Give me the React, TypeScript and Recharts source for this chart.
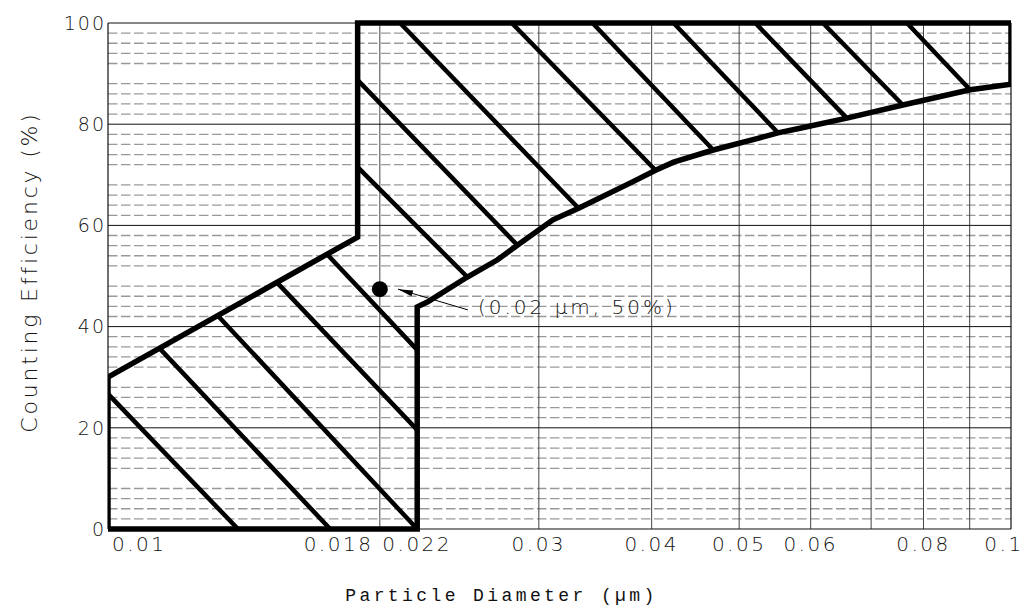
import React from 'react'
import {
  ComposedChart,
  Line,
  Scatter,
  XAxis,
  YAxis,
  ReferenceLine,
} from 'recharts'

// axis ticks
const xTicks = [0.01, 0.018, 0.022, 0.03, 0.04, 0.05, 0.06, 0.08, 0.1]
const xTickLabels = ['0.01', '0.018', '0.022', '0.03', '0.04', '0.05', '0.06', '0.08', '0.1']
const yTicks = [0, 20, 40, 60, 80, 100]

// grid
const xGrid = [0.02, 0.03, 0.04, 0.05, 0.06, 0.07, 0.08, 0.09]
const yMajorGrid = [20, 40, 60, 80]
const yMinorGrid = [
  2, 4, 6, 8, 12, 14, 16, 18, 22, 24, 26, 28, 32, 34, 36, 38, 42, 44, 46, 48,
  52, 54, 56, 58, 62, 64, 66, 68, 72, 74, 76, 78, 82, 84, 86, 88, 92, 94, 96, 98,
]

// outline of the efficiency band
const bandOutline = [
  { x: 0.01, y: 0 },
  { x: 0.01, y: 30 },
  { x: 0.0189, y: 57.7 },
  { x: 0.0189, y: 100 },
  { x: 0.1, y: 100 },
  { x: 0.1, y: 87.9 },
  { x: 0.0901, y: 86.8 },
  { x: 0.0759, y: 83.8 },
  { x: 0.0658, y: 81.2 },
  { x: 0.0584, y: 79.2 },
  { x: 0.0552, y: 78.3 },
  { x: 0.0527, y: 77.3 },
  { x: 0.0468, y: 74.9 },
  { x: 0.0423, y: 72.5 },
  { x: 0.0404, y: 70.9 },
  { x: 0.0381, y: 68.6 },
  { x: 0.0332, y: 63.4 },
  { x: 0.0311, y: 61.1 },
  { x: 0.0284, y: 56.1 },
  { x: 0.027, y: 53.2 },
  { x: 0.025, y: 49.8 },
  { x: 0.0226, y: 44.9 },
  { x: 0.022, y: 43.9 },
  { x: 0.022, y: 0 },
  { x: 0.01, y: 0 },
]

// hatch segments (start, end)
const lowerHatch = [
  [{ x: 0.01, y: 26.7 }, { x: 0.01393, y: 0 }],
  [{ x: 0.01142, y: 35.6 }, { x: 0.01762, y: 0 }],
  [{ x: 0.01324, y: 42.1 }, { x: 0.022, y: 0 }],
  [{ x: 0.01539, y: 48.7 }, { x: 0.022, y: 19.6 }],
  [{ x: 0.01748, y: 54.3 }, { x: 0.022, y: 35.4 }],
]
const upperHatch = [
  [{ x: 0.0189, y: 71.5 }, { x: 0.025, y: 49.8 }],
  [{ x: 0.0189, y: 88.7 }, { x: 0.0284, y: 56.1 }],
  [{ x: 0.02106, y: 100 }, { x: 0.0332, y: 63.4 }],
  [{ x: 0.028, y: 100 }, { x: 0.0404, y: 70.9 }],
  [{ x: 0.0344, y: 100 }, { x: 0.0468, y: 74.9 }],
  [{ x: 0.0423, y: 100 }, { x: 0.0552, y: 78.3 }],
  [{ x: 0.0521, y: 100 }, { x: 0.0658, y: 81.2 }],
  [{ x: 0.0619, y: 100 }, { x: 0.0759, y: 83.8 }],
  [{ x: 0.0767, y: 100 }, { x: 0.0901, y: 86.8 }],
]

// marked point and its note
const markedPoint = [{ x: 0.02, y: 47.4 }]
const arrowLine = [
  { x: 0.02504, y: 43.3 },
  { x: 0.02095, y: 47.4 },
]
const noteAnchor = [{ x: 0.02504, y: 43.3 }]
const noteText = '(0.02 µm, 50%)'

const tickFont = "'DejaVu Sans', sans-serif"

const XTick = (props: any) => {
  const { x, y, index } = props
  const last = xTicks.length - 1
  const anchor = index === 0 ? 'start' : 'middle'
  const dx = index === 0 ? 4 : index === last ? -7 : 0
  return (
    <text
      x={x + dx}
      y={y}
      dy="0.71em"
      textAnchor={anchor}
      fontFamily={tickFont}
      fontWeight={200}
      fontSize={20}
      letterSpacing={2.5}
      fill="#111"
    >
      {xTickLabels[index]}
    </text>
  )
}

const YTick = (props: any) => {
  const { x, y, payload } = props
  return (
    <text
      x={x}
      y={y}
      dy="0.36em"
      textAnchor="end"
      fontFamily={tickFont}
      fontWeight={200}
      fontSize={19}
      letterSpacing={2}
      fill="#111"
    >
      {payload.value}
    </text>
  )
}

const XTitle = (props: any) => {
  const vb = props.viewBox || { x: 100, y: 521, width: 903, height: 77 }
  return (
    <text
      x={vb.x + vb.width / 2 - 58}
      y={vb.y + 72}
      textAnchor="middle"
      fontFamily="'Liberation Mono', monospace"
      fontSize={18}
      letterSpacing={3.4}
      fill="#111"
    >
      Particle Diameter (µm)
    </text>
  )
}

const YTitle = (props: any) => {
  const vb = props.viewBox || { x: 0, y: 15, width: 100, height: 506 }
  const cx = vb.x + 21
  const cy = vb.y + vb.height / 2 - 4
  return (
    <text
      x={cx}
      y={cy}
      dy="0.36em"
      textAnchor="middle"
      transform={`rotate(-90 ${cx} ${cy})`}
      fontFamily={tickFont}
      fontWeight={200}
      fontSize={22}
      letterSpacing={2.8}
      fill="#111"
    >
      Counting Efficiency (%)
    </text>
  )
}

const Dot = (props: any) => <circle cx={props.cx} cy={props.cy} r={8} fill="#000" />

const ArrowHead = (props: any) => {
  const { cx, cy } = props
  return (
    <polygon
      points={`${cx},${cy} ${cx + 15},${cy - 3} ${cx + 15},${cy + 3}`}
      transform={`rotate(16.7 ${cx} ${cy})`}
      fill="#000"
    />
  )
}

const Note = (props: any) => (
  <text
    x={props.cx + 10}
    y={props.cy - 3}
    dy="0.36em"
    fontFamily={tickFont}
    fontWeight={200}
    fontSize={20}
    letterSpacing={3}
    fill="#111"
  >
    {noteText}
  </text>
)

const App = () => {
  return (
    <div style={{ position: 'absolute', left: 8, top: 8 }}>
      <ComposedChart
        width={1015}
        height={598}
        margin={{ top: 15, right: 12, bottom: 0, left: 0 }}
      >
        <XAxis
          dataKey="x"
          type="number"
          scale="log"
          domain={[0.01, 0.1]}
          ticks={xTicks}
          allowDataOverflow
          axisLine={false}
          tickLine={false}
          height={77}
          tick={<XTick />}
          interval={0}
          label={<XTitle />}
        />
        <YAxis
          dataKey="y"
          type="number"
          domain={[0, 100]}
          ticks={yTicks}
          axisLine={false}
          tickLine={false}
          tickSize={0}
          tickMargin={2}
          width={100}
          tick={<YTick />}
          interval={0}
          label={<YTitle />}
        />

        {yMinorGrid.map((v) => (
          <ReferenceLine
            key={`ym${v}`}
            y={v}
            stroke="#999"
            strokeWidth={1.3}
            strokeDasharray="9.5 3.5"
          />
        ))}
        {xGrid.map((v) => (
          <ReferenceLine key={`xg${v}`} x={v} stroke="#444" strokeWidth={1} />
        ))}
        {yMajorGrid.map((v) => (
          <ReferenceLine key={`yg${v}`} y={v} stroke="#111" strokeWidth={1} />
        ))}
        <ReferenceLine y={0} stroke="#111" strokeWidth={1.2} />
        <ReferenceLine y={100} stroke="#111" strokeWidth={1.2} />
        <ReferenceLine x={0.01} stroke="#111" strokeWidth={1.2} />
        <ReferenceLine x={0.1} stroke="#111" strokeWidth={1.2} />

        {lowerHatch.map((seg, i) => (
          <Line
            key={`lh${i}`}
            data={seg}
            dataKey="y"
            type="linear"
            stroke="#000"
            strokeWidth={4.5}
            dot={false}
            activeDot={false}
            isAnimationActive={false}
          />
        ))}
        {upperHatch.map((seg, i) => (
          <Line
            key={`uh${i}`}
            data={seg}
            dataKey="y"
            type="linear"
            stroke="#000"
            strokeWidth={4.5}
            dot={false}
            activeDot={false}
            isAnimationActive={false}
          />
        ))}
        <Line
          data={bandOutline}
          dataKey="y"
          type="linear"
          stroke="#000"
          strokeWidth={5.5}
          strokeLinejoin="miter"
          dot={false}
          activeDot={false}
          isAnimationActive={false}
        />
        <Line
          data={arrowLine}
          dataKey="y"
          type="linear"
          stroke="#000"
          strokeWidth={1}
          dot={false}
          activeDot={false}
          isAnimationActive={false}
        />
        <Scatter data={markedPoint} shape={<Dot />} isAnimationActive={false} />
        <Scatter data={[arrowLine[1]]} shape={<ArrowHead />} isAnimationActive={false} />
        <Scatter data={noteAnchor} shape={<Note />} isAnimationActive={false} />
      </ComposedChart>
    </div>
  )
}

export default App
